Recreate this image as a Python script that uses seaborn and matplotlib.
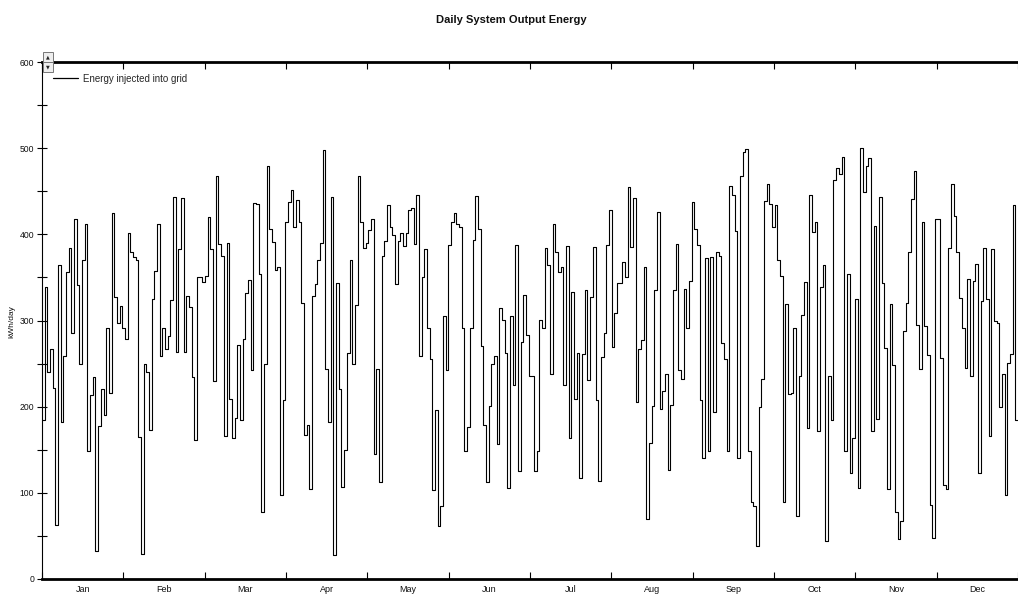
import numpy as np
import pandas as pd
import matplotlib
matplotlib.use("Agg")
import matplotlib.pyplot as plt
from matplotlib.patches import Rectangle
from matplotlib.ticker import FixedLocator, MultipleLocator
import seaborn as sns

# Daily energy injected into the grid (kWh/day), one list per month
months = ["Jan", "Feb", "Mar", "Apr", "May", "Jun",
          "Jul", "Aug", "Sep", "Oct", "Nov", "Dec"]

jan = [184, 339, 240, 267, 222, 63, 364, 182, 259, 356, 384, 285, 418, 341, 250, 370,
       412, 148, 214, 234, 32, 178, 220, 190, 291, 216, 425, 327, 297, 317, 291]
feb = [279, 401, 380, 374, 370, 165, 29, 250, 240, 173, 325, 358, 412, 259, 291, 267,
       282, 324, 443, 264, 383, 442, 264, 329, 316, 234, 161, 351]
mar = [351, 345, 352, 420, 383, 230, 468, 389, 375, 166, 390, 209, 164, 187, 271, 184,
       279, 332, 347, 242, 436, 435, 354, 78, 250, 479, 406, 391, 359, 362, 97]
apr = [208, 414, 437, 451, 408, 440, 414, 320, 167, 179, 105, 329, 342, 370, 390, 498,
       244, 182, 443, 28, 343, 221, 107, 150, 262, 370, 250, 318, 468, 414]
may = [384, 390, 405, 418, 145, 244, 113, 375, 392, 434, 409, 399, 342, 392, 402, 387,
       401, 428, 430, 389, 446, 259, 350, 383, 291, 255, 103, 196, 61, 85, 305]
jun = [242, 388, 414, 425, 412, 408, 291, 148, 176, 291, 394, 445, 406, 270, 179, 113,
       201, 250, 259, 157, 315, 301, 262, 106, 305, 225, 388, 125, 275, 330]
jul = [283, 236, 236, 125, 148, 301, 291, 384, 364, 238, 412, 380, 356, 362, 225, 386,
       164, 333, 209, 262, 117, 261, 335, 231, 327, 385, 208, 114, 258, 285, 388]
aug = [428, 269, 309, 343, 343, 368, 351, 455, 385, 442, 205, 267, 277, 362, 70, 158,
       201, 335, 426, 197, 218, 238, 127, 202, 335, 389, 242, 232, 337, 291, 346]
sep = [437, 406, 388, 208, 141, 373, 148, 374, 194, 379, 375, 274, 255, 148, 456, 446,
       404, 141, 468, 495, 499, 148, 89, 85, 38, 200, 232, 439, 458, 435]
oct_ = [409, 434, 370, 352, 89, 319, 215, 216, 291, 73, 236, 306, 345, 175, 446, 403,
        414, 172, 339, 364, 44, 236, 184, 463, 477, 470, 490, 148, 354, 123, 164]
nov = [325, 106, 500, 449, 479, 489, 172, 410, 186, 443, 343, 268, 105, 319, 248, 78,
       46, 67, 288, 320, 379, 441, 473, 295, 244, 414, 294, 260, 86, 48]
dec = [418, 418, 257, 109, 105, 384, 458, 421, 380, 326, 291, 245, 348, 236, 346, 366,
       123, 323, 384, 325, 166, 383, 299, 297, 200, 238, 98, 251, 261, 434, 185]

series_label = "Energy injected into grid"
title = "Daily System Output Energy"
y_label = "kWh/day"

daily = jan + feb + mar + apr + may + jun + jul + aug + sep + oct_ + nov + dec
n_days = len(daily)

# step line: each value holds for one day; repeat the last value to close the final step
df = pd.DataFrame({
    "day": np.arange(n_days + 1),
    "kWh": daily + [daily[-1]],
})

sns.set_theme(style="white")
plt.rcParams["font.family"] = ["Liberation Sans", "DejaVu Sans"]

W, H = 1018, 594
fig = plt.figure(figsize=(W / 100, H / 100), dpi=100)
fig.patch.set_facecolor("white")

left, right, top, bottom = 42, 1018, 62, 579
ax = fig.add_axes([left / W, 1 - bottom / H, (right - left) / W, (bottom - top) / H])

sns.lineplot(data=df, x="day", y="kWh", drawstyle="steps-post", color="black",
             linewidth=0.8, ax=ax, label=series_label)

ax.set_xlim(0, n_days)
ax.set_ylim(0, 600)

# months are laid out as 12 equal divisions across the year
edges = np.linspace(0, n_days, 13)
centers = (edges[:-1] + edges[1:]) / 2
ax.xaxis.set_major_locator(FixedLocator(edges))
ax.xaxis.set_minor_locator(FixedLocator(centers))
ax.set_xticklabels([""] * len(edges))
ax.set_xticklabels(months, minor=True)
ax.tick_params(axis="x", which="major", direction="in", length=5, width=0.8,
               top=True, bottom=True, color="black")
ax.tick_params(axis="x", which="minor", length=0, pad=4, labelsize=6.5, labelcolor="#111111")

ax.yaxis.set_major_locator(MultipleLocator(100))
ax.yaxis.set_minor_locator(MultipleLocator(50))
ax.tick_params(axis="y", which="both", direction="inout", length=7, width=0.8,
               left=True, color="black", labelsize=6.2, pad=2, labelcolor="#111111")

ax.set_xlabel("")
ax.set_ylabel("")

for side in ("top", "bottom"):
    ax.spines[side].set_linewidth(2.0)
    ax.spines[side].set_color("black")
ax.spines["left"].set_linewidth(0.8)
ax.spines["left"].set_color("black")
ax.spines["right"].set_visible(False)

leg = ax.legend(loc="upper left", bbox_to_anchor=(0.007, 0.985), borderaxespad=0,
                frameon=False, fontsize=7, handlelength=2.6, handletextpad=0.5)
for line in leg.get_lines():
    line.set_linewidth(0.9)

fig.text(0.502, 1 - 20 / H, title, ha="center", va="center", fontsize=8,
         fontweight="bold", color="#111111")
fig.text(12 / W, 1 - 322 / H, y_label, rotation=90, ha="center", va="center",
         fontsize=6, color="#111111")

# small scroll buttons at the top-left corner of the plot
for y0, glyph in ((52, "\u25b2"), (62, "\u25bc")):
    fig.add_artist(Rectangle((43 / W, 1 - (y0 + 10) / H), 10 / W, 10 / H,
                             transform=fig.transFigure, facecolor="#eeeeee",
                             edgecolor="#777777", linewidth=0.7))
    fig.text(48 / W, 1 - (y0 + 5) / H, glyph, ha="center", va="center",
             fontsize=3.5, color="#222222", family="DejaVu Sans")

fig.savefig("out.png", dpi=100, facecolor="white")
